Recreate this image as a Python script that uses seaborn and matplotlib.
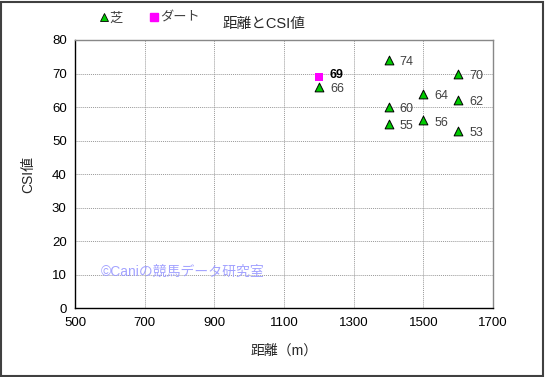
import matplotlib
matplotlib.use("Agg")
import matplotlib.pyplot as plt
import seaborn as sns
import pandas as pd
from matplotlib.lines import Line2D

sns.set_style("white")
plt.rcParams['font.family'] = ['Liberation Sans', 'Noto Sans CJK JP', 'DejaVu Sans']

turf_dist = [1200, 1400, 1400, 1400, 1500, 1500, 1600, 1600, 1600]
turf_csi = [66, 74, 60, 55, 64, 56, 70, 62, 53]
dirt_dist = [1200]
dirt_csi = [69]

df = pd.DataFrame({
    "dist": turf_dist + dirt_dist,
    "csi": turf_csi + dirt_csi,
    "kind": ["芝"] * len(turf_dist) + ["ダート"] * len(dirt_dist),
})

fig = plt.figure(figsize=(5.45, 3.77), dpi=100)
ax = fig.add_axes([0.1376, 0.182, 0.767, 0.712])

sns.scatterplot(data=df[df.kind == "芝"], x="dist", y="csi", marker="^", s=40,
                color="#00cc00", edgecolor="black", linewidth=0.7, ax=ax, zorder=3, legend=False)
sns.scatterplot(data=df[df.kind == "ダート"], x="dist", y="csi", marker="s", s=26,
                color="#ff00ff", edgecolor="#ff00ff", linewidth=0, ax=ax, zorder=3, legend=False)

for x, y in zip(turf_dist, turf_csi):
    ax.annotate(str(y), (x, y), xytext=(8, -1.5), textcoords="offset points",
                va="center", ha="left", fontsize=9, color="#404040")
for x, y in zip(dirt_dist, dirt_csi):
    ax.annotate(str(y), (x, y), xytext=(8, 1.5), textcoords="offset points",
                va="center", ha="left", fontsize=9, color="black", fontweight="bold")

ax.set_xlim(500, 1700)
ax.set_ylim(0, 80)
ax.set_xticks(range(500, 1701, 200))
ax.set_yticks(range(0, 81, 10))
ax.tick_params(axis="both", labelsize=9.5, length=0, pad=6, colors="black")
ax.grid(True, linestyle=(0, (1, 1)), color="#999999", linewidth=0.7)
ax.set_axisbelow(True)
for side in ["top", "right"]:
    ax.spines[side].set_color("#888888")
    ax.spines[side].set_linewidth(1.0)
for side in ["left", "bottom"]:
    ax.spines[side].set_color("black")
    ax.spines[side].set_linewidth(1.0)

ax.set_xlabel("距離（m）", fontsize=10)
ax.xaxis.set_label_coords(0.5, -0.13)
ax.set_ylabel("CSI値", fontsize=10, labelpad=12)

fig.text(0.484, 0.936, "距離とCSI値", fontsize=10.5, ha="center", va="center")

fig.text(0.185, 0.279, "©Caniの競馬データ研究室", fontsize=10, color="#9999ff",
         ha="left", va="center", alpha=0.9)

handles = [
    Line2D([], [], marker="^", linestyle="none", markerfacecolor="#00cc00",
           markeredgecolor="black", markeredgewidth=0.6, markersize=6, label="芝"),
    Line2D([], [], marker="s", linestyle="none", markerfacecolor="#ff00ff",
           markeredgecolor="#ff00ff", markersize=5.5, label="ダート"),
]
leg = fig.legend(handles=handles, loc="center left", bbox_to_anchor=(0.155, 0.95), ncol=2,
                 frameon=False, fontsize=9.5, handletextpad=-0.2, columnspacing=1.8,
                 handlelength=1.2)
for t in leg.get_texts():
    t.set_color("#404040")

fig.patches.append(plt.Rectangle((0.002, 0.003), 0.994, 0.993, transform=fig.transFigure,
                                 fill=False, edgecolor="#404040", linewidth=1.5))

fig.savefig("out.png", dpi=100)
